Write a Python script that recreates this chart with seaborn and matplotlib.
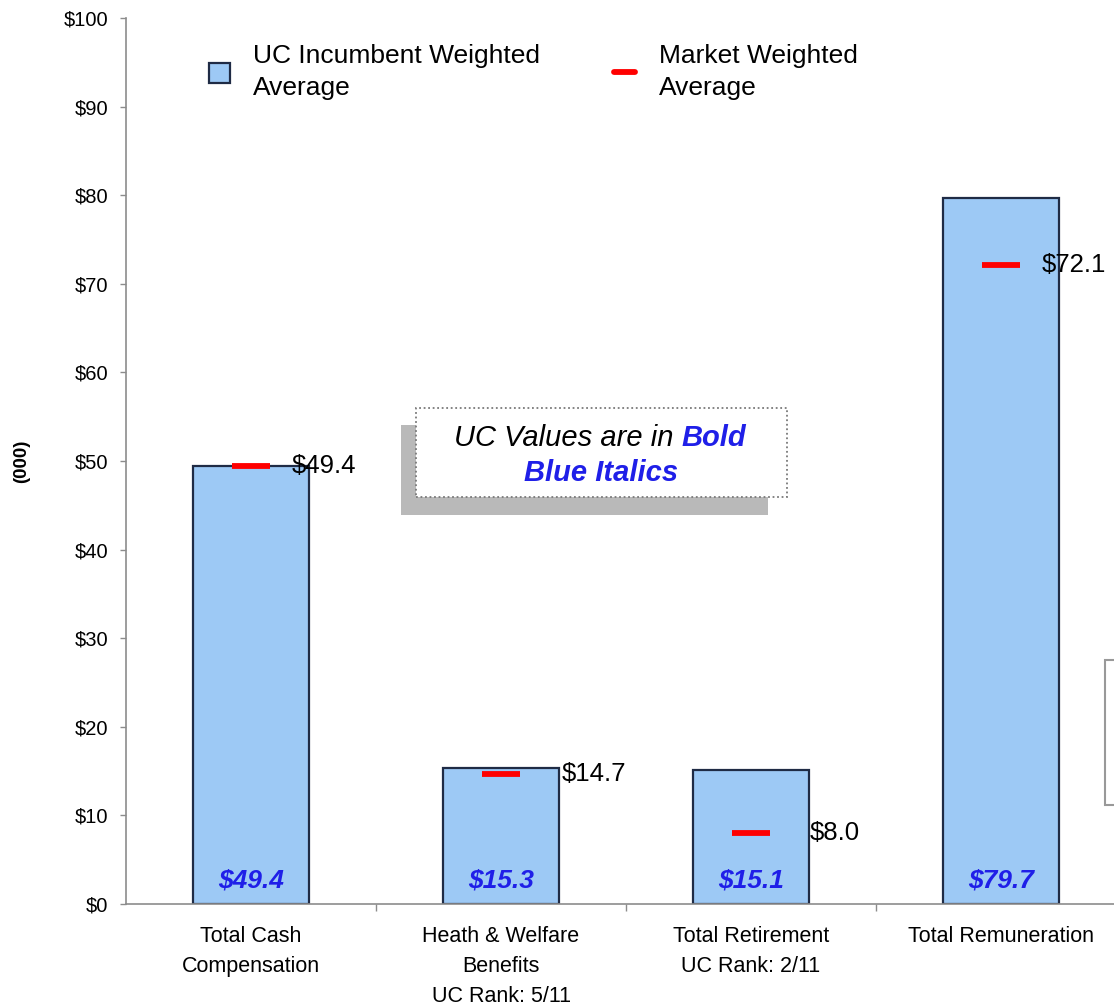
import matplotlib
matplotlib.use("Agg")
import matplotlib.pyplot as plt
import seaborn as sns
import pandas as pd
from matplotlib.patches import Rectangle, Patch
from matplotlib.lines import Line2D

# ---- data ----
categories = ["Total Cash\nCompensation",
              "Heath & Welfare\nBenefits\nUC Rank: 5/11",
              "Total Retirement\nUC Rank: 2/11",
              "Total Remuneration"]
uc_values = [49.4, 15.3, 15.1, 79.7]
market_values = [49.4, 14.7, 8.0, 72.1]
y_ticks = [0, 10, 20, 30, 40, 50, 60, 70, 80, 90, 100]
y_tick_labels = [f"${v}" for v in y_ticks]
legend_labels = ["UC Incumbent Weighted\nAverage", "Market Weighted\nAverage"]
y_axis_label = "(000)"
note_parts = ["UC Values are in ", "Bold", "Blue Italics"]

sns.set_theme(style="white")
plt.rcParams["font.family"] = ["Liberation Sans", "DejaVu Sans"]
plt.rcParams["text.color"] = "black"
plt.rcParams["axes.labelcolor"] = "black"
plt.rcParams["xtick.color"] = "black"
plt.rcParams["ytick.color"] = "black"

BAR_FILL = "#9DC9F5"
BAR_EDGE = "#1F2B45"
RED = "#FF0000"
UC_BLUE = "#1F1FE8"
GRAY = "#8C8C8C"

fig = plt.figure(figsize=(11.14, 10.05), dpi=100)
ax = fig.add_axes([0.1131, 0.1005, 0.8977, 0.8816])

df = pd.DataFrame({"category": categories, "uc": uc_values})
sns.barplot(data=df, x="category", y="uc", ax=ax, color=BAR_FILL, saturation=1,
            width=0.464, edgecolor=BAR_EDGE, linewidth=1.6, zorder=2)

# market markers
xs = list(range(len(categories)))
ax.plot(xs, market_values, ls="none", marker="_", ms=27, mew=4.2, color=RED, zorder=4)

# market value labels (offsets in points from marker center)
label_offsets = [29.5, 44, 42.5, 29]
for x, v, off in zip(xs, market_values, label_offsets):
    ax.annotate(f"${v:.1f}", xy=(x, v), xytext=(off, 0), textcoords="offset points",
                ha="left", va="center", fontsize=18.5, color="black", zorder=5)

# UC values inside bars
for x, v in zip(xs, uc_values):
    ax.text(x, 2.7, f"${v:.1f}", ha="center", va="center", fontsize=19,
            fontweight="bold", fontstyle="italic", color=UC_BLUE, zorder=5)

# axes styling
ax.set_xlim(-0.5, 3.5)
ax.set_ylim(0, 100)
ax.set_yticks(y_ticks)
ax.set_yticklabels(y_tick_labels, fontsize=14.5)
ax.tick_params(axis="y", which="major", left=True, length=4, width=1, color=GRAY,
               labelcolor="black", direction="out", pad=9)

ax.set_xticks([0.5, 1.5, 2.5])
ax.set_xticklabels([])
ax.tick_params(axis="x", which="major", bottom=True, length=5, width=1, color=GRAY,
               direction="out")
ax.set_xticks(xs, minor=True)
ax.set_xticklabels(categories, minor=True, fontsize=15.5, linespacing=1.55)
ax.tick_params(axis="x", which="minor", bottom=True, length=0, pad=16,
               labelcolor="black")

ax.set_xlabel("")
ax.set_ylabel(y_axis_label, fontsize=13.5, fontweight="bold", labelpad=24)
for s in ["top", "right"]:
    ax.spines[s].set_visible(False)
for s in ["left", "bottom"]:
    ax.spines[s].set_color(GRAY)
    ax.spines[s].set_linewidth(1.2)
ax.grid(False)

# legend
handles = [Patch(facecolor=BAR_FILL, edgecolor=BAR_EDGE, linewidth=1.6),
           Line2D([0], [0], color=RED, lw=4.2)]
leg = ax.legend(handles, legend_labels, loc="upper left", bbox_to_anchor=(0.072, 0.982),
                ncol=2, frameon=False, fontsize=19, handlelength=0.8, handleheight=0.8,
                handletextpad=0.9, columnspacing=2.8, borderaxespad=0, labelspacing=0.3)
for t in leg.get_texts():
    t.set_linespacing(1.42)
    t.set_color("black")

# note box with shadow
ax.add_patch(Rectangle((0.60, 43.9), 1.468, 10.16, facecolor="#B9B9B9", edgecolor="none",
                       zorder=6))
ax.add_patch(Rectangle((0.66, 45.94), 1.484, 10.04, facecolor="white", edgecolor="#7A7A7A",
                       linestyle=(0, (1, 1.5)), linewidth=1.3, zorder=7))
t1 = ax.text(0.812, 52.6, note_parts[0], ha="left", va="center", fontsize=21,
             fontstyle="italic", color="black", zorder=8)
ax.annotate(note_parts[1], xy=(1, 0), xycoords=t1, ha="left", va="bottom", fontsize=21,
            fontstyle="italic", fontweight="bold", color=UC_BLUE, zorder=8)
ax.text(1.40, 48.7, note_parts[2], ha="center", va="center", fontsize=21,
        fontstyle="italic", fontweight="bold", color=UC_BLUE, zorder=8)

# partially visible box at right edge
ax.add_patch(Rectangle((3.416, 11.2), 0.5, 16.3, facecolor="white", edgecolor="#999999",
                       linewidth=1.5, zorder=3, clip_on=False))

fig.savefig("out.png", dpi=100)
